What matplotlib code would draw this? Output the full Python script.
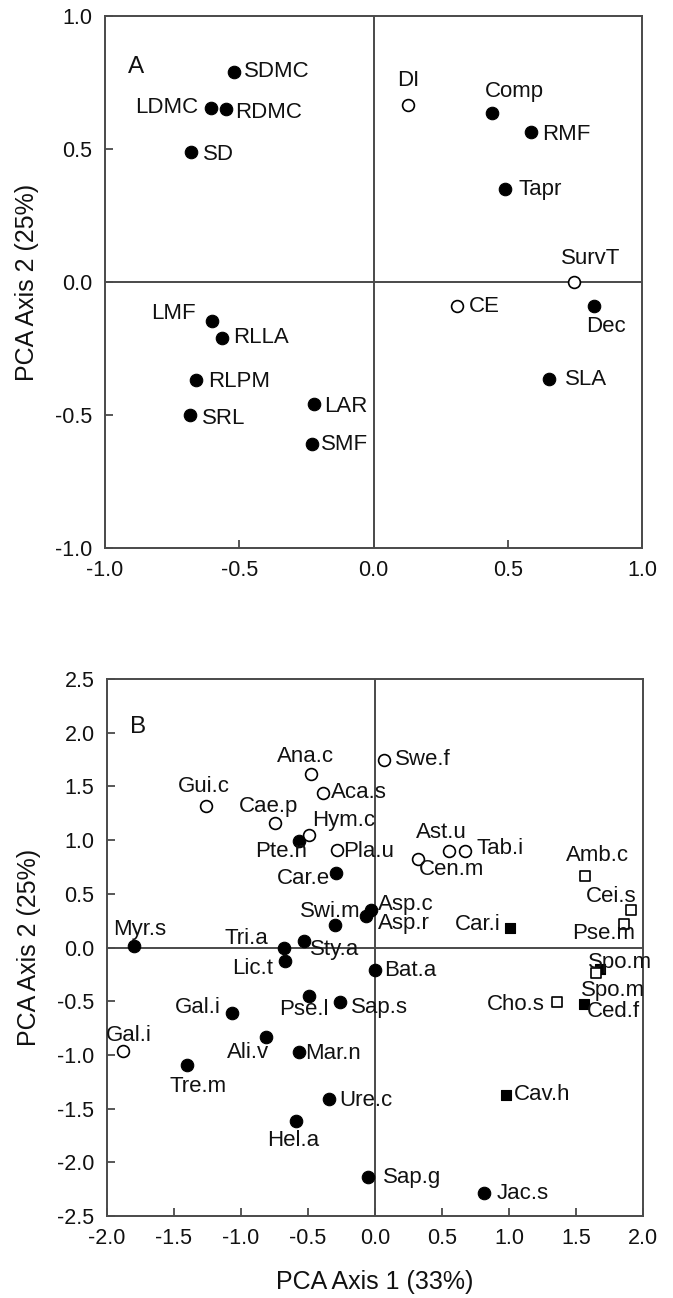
import matplotlib
matplotlib.use("Agg")
import matplotlib.pyplot as plt
from matplotlib.ticker import FormatStrFormatter

plt.rcParams['font.family'] = ['Liberation Sans', 'DejaVu Sans']

# ---------------- Data: panel A (trait loadings) ----------------
a_names = ["SDMC", "LDMC", "RDMC", "SD", "DI", "Comp", "RMF", "Tapr", "SurvT",
           "CE", "Dec", "SLA", "LMF", "RLLA", "RLPM", "SRL", "LAR", "SMF"]
a_x = [-0.52, -0.605, -0.55, -0.68, 0.13, 0.44, 0.585, 0.49, 0.745,
       0.31, 0.82, 0.655, -0.60, -0.565, -0.66, -0.685, -0.222, -0.23]
a_y = [0.79, 0.655, 0.65, 0.49, 0.665, 0.635, 0.565, 0.35, 0.0,
       -0.09, -0.09, -0.365, -0.145, -0.21, -0.37, -0.50, -0.46, -0.61]
a_kind = ["fc", "fc", "fc", "fc", "oc", "fc", "fc", "fc", "oc",
          "oc", "fc", "fc", "fc", "fc", "fc", "fc", "fc", "fc"]

# ---------------- Data: panel B (species scores) ----------------
b_names = ["Ana.c", "Gui.c", "Cae.p", "Hym.c", "Pte.n", "Aca.s", "Pla.u", "Car.e",
           "Swe.f", "Ast.u", "Tab.i", "Cen.m", "Amb.c", "Cei.s", "Pse.m", "Car.i",
           "Asp.c", "Asp.r", "Swi.m", "Tri.a", "Sty.a", "Lic.t", "Bat.a", "Pse.l",
           "Sap.s", "Gal.i", "Ali.v", "Mar.n", "Tre.m", "Myr.s", "Gal.i", "Hel.a",
           "Ure.c", "Sap.g", "Jac.s", "Cav.h", "Cho.s", "Ced.f", "Spo.m", "Spo.m"]
b_x = [-0.48, -1.26, -0.75, -0.49, -0.57, -0.39, -0.28, -0.29,
       0.07, 0.55, 0.67, 0.32, 1.57, 1.91, 1.86, 1.01,
       -0.03, -0.07, -0.30, -0.68, -0.53, -0.67, 0.00, -0.49,
       -0.26, -1.07, -0.81, -0.57, -1.40, -1.80, -1.88, -0.59,
       -0.34, -0.05, 0.81, 0.98, 1.36, 1.56, 1.68, 1.65]
b_y = [1.62, 1.32, 1.16, 1.05, 0.99, 1.44, 0.91, 0.69,
       1.75, 0.90, 0.90, 0.82, 0.67, 0.35, 0.22, 0.18,
       0.35, 0.29, 0.21, 0.00, 0.06, -0.13, -0.21, -0.45,
       -0.51, -0.61, -0.83, -0.97, -1.09, 0.01, -0.96, -1.62,
       -1.41, -2.14, -2.29, -1.37, -0.51, -0.53, -0.20, -0.24]
b_kind = ["oc", "oc", "oc", "oc", "fc", "oc", "oc", "fc",
          "oc", "oc", "oc", "oc", "os", "os", "os", "fs",
          "fc", "fc", "fc", "fc", "fc", "fc", "fc", "fc",
          "fc", "fc", "fc", "fc", "fc", "fc", "oc", "fc",
          "fc", "fc", "fc", "fs", "os", "fs", "fs", "os"]

ticks_a = [-1.0, -0.5, 0.0, 0.5, 1.0]
ticks_bx = [-2.0, -1.5, -1.0, -0.5, 0.0, 0.5, 1.0, 1.5, 2.0]
ticks_by = [-2.5, -2.0, -1.5, -1.0, -0.5, 0.0, 0.5, 1.0, 1.5, 2.0, 2.5]
xlabel = "PCA Axis 1 (33%)"
ylabel = "PCA Axis 2 (25%)"

# ---------------- Label placement (pixel offsets, alignment) ----------------
a_lab = [(10, 0, "left"), (-13, 0, "right"), (9, -3, "left"), (12, -3, "left"),
         (0, 25, "center"), (-7, 22, "left"), (12, -3, "left"), (13, -1, "left"),
         (17, 24, "center"), (12, -1, "left"), (-8, -21, "left"), (16, 0, "left"),
         (-17, 7, "right"), (11, 0, "left"), (12, -1, "left"), (12, -3, "left"),
         (10, -2, "left"), (9, 0, "left")]
b_lab = [(-5, 17, "center"), (-2, 19, "center"), (-6, 16, "center"), (3, 14, "left"),
         (-17, -10, "center"), (8, 0, "left"), (6, -2, "left"), (-6, -5, "right"),
         (11, 0, "left"), (-7, 18, "center"), (12, 2, "left"), (1, -10, "left"),
         (12, 20, "center"), (6, 13, "right"), (11, -10, "right"), (-10, 4, "right"),
         (7, 5, "left"), (12, -7, "left"), (-5, 13, "center"), (-16, 9, "right"),
         (6, -8, "left"), (-12, -7, "right"), (9, 0, "left"), (-5, -14, "center"),
         (11, -5, "left"), (-11, 6, "right"), (-18, -16, "center"), (7, -2, "left"),
         (11, -22, "center"), (6, 17, "center"), (6, 15, "center"), (-3, -19, "center"),
         (10, -2, "left"), (15, 0, "left"), (13, 0, "left"), (8, 0, "left"),
         (-12, -2, "right"), (3, -7, "left"), (-12, 6, "left"), (-15, -17, "left")]

TXT = "#111111"
SP = "#4a4a4a"
styles = {
    "fc": dict(marker="o", s=9.0 ** 2, facecolor="black", edgecolor="black", linewidths=0.8, zorder=4),
    "oc": dict(marker="o", s=8.5 ** 2, facecolor="white", edgecolor="black", linewidths=1.2, zorder=5),
    "fs": dict(marker="s", s=7.8 ** 2, facecolor="black", edgecolor="black", linewidths=0.8, zorder=4),
    "os": dict(marker="s", s=7.8 ** 2, facecolor="white", edgecolor="black", linewidths=1.2, zorder=5),
}

fig = plt.figure(figsize=(6.73, 12.98), dpi=100)
axA = fig.add_axes([105 / 673, 1 - 548 / 1298, 537 / 673, 532 / 1298])
axB = fig.add_axes([107 / 673, 1 - 1216 / 1298, 536 / 673, 537 / 1298])


def style_axes(ax, xt, yt):
    ax.set_xticks(xt)
    ax.set_yticks(yt)
    ax.set_xlim(xt[0], xt[-1])
    ax.set_ylim(yt[0], yt[-1])
    ax.xaxis.set_major_formatter(FormatStrFormatter("%.1f"))
    ax.yaxis.set_major_formatter(FormatStrFormatter("%.1f"))
    ax.tick_params(direction="in", length=6, width=1.3, colors=SP, labelcolor=TXT,
                   labelsize=15.5, pad=9, top=False, right=False)
    for s in ax.spines.values():
        s.set_color(SP)
        s.set_linewidth(1.4)
    ax.axhline(0, color=SP, lw=1.4, zorder=1)
    ax.axvline(0, color=SP, lw=1.4, zorder=1)
    ax.set_ylabel(ylabel, fontsize=18, color=TXT, va="center")
    ax.yaxis.set_label_coords(-0.146, 0.5)


def draw_points(ax, names, xs, ys, kinds, labs):
    for k in ["fc", "fs", "oc", "os"]:
        px = [x for x, kk in zip(xs, kinds) if kk == k]
        py = [y for y, kk in zip(ys, kinds) if kk == k]
        if px:
            ax.scatter(px, py, **styles[k])
    for n, x, y, (dx, dy, ha) in zip(names, xs, ys, labs):
        ax.annotate(n, (x, y), xytext=(dx, dy), textcoords="offset pixels",
                    ha=ha, va="center", fontsize=16, color=TXT, zorder=6)


style_axes(axA, ticks_a, ticks_a)
draw_points(axA, a_names, a_x, a_y, a_kind, a_lab)
axA.text(0.043, 0.905, "A", transform=axA.transAxes, fontsize=17.5, color=TXT,
         ha="left", va="center")

style_axes(axB, ticks_bx, ticks_by)
draw_points(axB, b_names, b_x, b_y, b_kind, b_lab)
axB.text(0.043, 0.91, "B", transform=axB.transAxes, fontsize=17.5, color=TXT,
         ha="left", va="center")
axB.set_xlabel(xlabel, fontsize=18, color=TXT, va="center")
axB.xaxis.set_label_coords(0.5, -0.123)

fig.savefig("out.png", dpi=100, facecolor="white")
